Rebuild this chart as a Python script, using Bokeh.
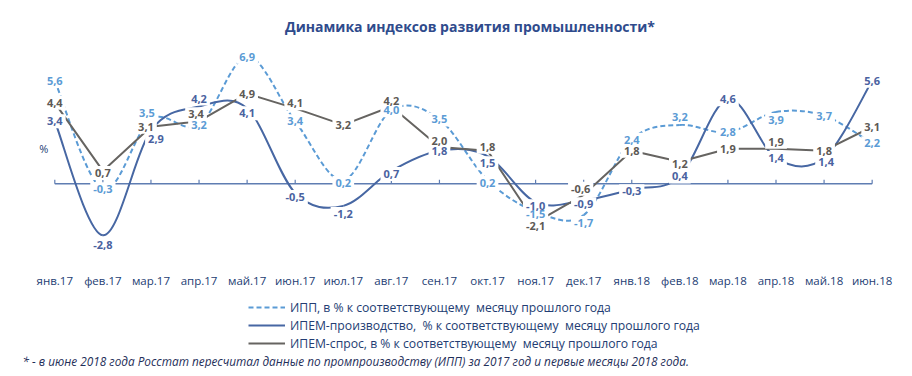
import numpy as np
from bokeh.plotting import figure
from bokeh.models import ColumnDataSource, LabelSet, Label, Legend, LegendItem, Range1d
from bokeh.embed import file_html
from bokeh.resources import INLINE
from bokeh.core.properties import value

# ---------------- data ----------------
months = ["янв.17", "фев.17", "мар.17", "апр.17", "май.17", "июн.17", "июл.17",
          "авг.17", "сен.17", "окт.17", "ноя.17", "дек.17", "янв.18", "фев.18",
          "мар.18", "апр.18", "май.18", "июн.18"]
ipp = [5.6, -0.3, 3.5, 3.2, 6.9, 3.4, 0.2, 4.0, 3.5, 0.2, -1.5, -1.7, 2.4, 3.2, 2.8, 3.9, 3.7, 2.2]
ipem_prod = [3.4, -2.8, 2.9, 4.2, 4.1, -0.5, -1.2, 0.7, 1.8, 1.5, -1.0, -0.9, -0.3, 0.4, 4.6, 1.4, 1.4, 5.6]
ipem_demand = [4.4, 0.7, 3.1, 3.4, 4.9, 4.1, 3.2, 4.2, 2.0, 1.8, -2.1, -0.6, 1.8, 1.2, 1.9, 1.9, 1.8, 3.1]

name_ipp = "ИПП, в % к соответствующему  месяцу прошлого года"
name_prod = "ИПЕМ-производство,  % к соответствующему  месяцу прошлого года"
name_demand = "ИПЕМ-спрос, в % к соответствующему  месяцу прошлого года"
title_text = "Динамика индексов развития промышленности*"
footnote = "* - в июне 2018 года Росстат пересчитал данные по промпроизводству (ИПП) за 2017 год и первые месяцы 2018 года."

# ---------------- styles ----------------
C_IPP = "#5B9BD5"
C_PROD = "#4767A3"
C_PROD_LBL = "#4A62A0"
C_DEM = "#666461"
C_DEM_LBL = "#5D5955"
C_AXIS = "#5F7DB2"
NAVY = "#233D73"
TITLE_C = "#2F4B8C"
FONT = "Open Sans"

# label nudges in screen px, positive = up (style only)
ipp_dx = [0, 0, -4, 0, 0, 0, 0, 0, 0, 0, 0, 0, 0, 0, 0, 0, 0, 0]
ipp_dy = [0, 0, 6, 0, 0, 0, -3, 0, 0, -3, -3, -8, 0, 8, 0, -8, 0, 0]
prod_dx = [0, 0, 5, 0, 0, 0, 0, 0, 0, 0, 0, 0, 0, 0, 0, 0, 2, 0]
prod_dy = [0, -10, -9, 8, -5, -4, -8, -3, 0, -7, -4, -4, -2, 0, 0, 0, -4, 0]
dem_dx = [0, 0, -5, -3, 0, 0, 0, 0, 0, 0, 0, -3, 0, 0, 0, 0, 0, 0]
dem_dy = [0, -2, 0, 7, 0, 5, 0, 6, 6, 4, -4, 6, 0, -2, 0, 7, 0, 0]

W, H = 904, 368
X0_PX, DX_PX = 54.3, 48.08      # canvas px of first category, px per category
Y0_PX, DY_PX = 183.3, 18.4      # canvas px (from top) of zero, px per unit

xs = np.arange(len(months), dtype=float)

p = figure(width=W, height=H, output_backend="svg", toolbar_location=None,
           x_range=Range1d(-X0_PX / DX_PX, (W - X0_PX) / DX_PX),
           y_range=Range1d(-(H - Y0_PX) / DY_PX, Y0_PX / DY_PX),
           x_axis_type=None, y_axis_type=None, min_border=0,
           outline_line_color=None, background_fill_color="white",
           border_fill_color="white")
p.grid.visible = False

# zero axis line with upward ticks at categories
p.segment(x0=[xs[0]], y0=[0], x1=[xs[-1]], y1=[0], line_color=C_AXIS, line_width=1.5)
tick_len = 4.0 / DY_PX
p.segment(x0=xs, y0=np.zeros_like(xs), x1=xs, y1=np.full_like(xs, tick_len),
          line_color=C_AXIS, line_width=1.2)


def smooth_segments(x, y):
    x = np.asarray(x, float)
    y = np.asarray(y, float)
    n = len(x)
    d = dict(x0=[], y0=[], x1=[], y1=[], cx0=[], cy0=[], cx1=[], cy1=[])
    for i in range(n - 1):
        a = max(i - 1, 0)
        b = min(i + 2, n - 1)
        d["x0"].append(x[i]); d["y0"].append(y[i])
        d["x1"].append(x[i + 1]); d["y1"].append(y[i + 1])
        d["cx0"].append(x[i] + (x[i + 1] - x[a]) / 6.0)
        d["cy0"].append(y[i] + (y[i + 1] - y[a]) / 6.0)
        d["cx1"].append(x[i + 1] - (x[b] - x[i]) / 6.0)
        d["cy1"].append(y[i + 1] - (y[b] - y[i]) / 6.0)
    return ColumnDataSource(d)


r_ipp = p.bezier(x0="x0", y0="y0", x1="x1", y1="y1", cx0="cx0", cy0="cy0",
                 cx1="cx1", cy1="cy1", source=smooth_segments(xs, ipp),
                 line_color=C_IPP, line_width=2, line_dash="5 3")
r_prod = p.bezier(x0="x0", y0="y0", x1="x1", y1="y1", cx0="cx0", cy0="cy0",
                  cx1="cx1", cy1="cy1", source=smooth_segments(xs, ipem_prod),
                  line_color=C_PROD, line_width=2)
r_dem = p.line(xs, ipem_demand, line_color=C_DEM, line_width=2)


def fmt(v):
    return f"{v:.1f}".replace(".", ",")


label_specs = [(ipp, C_IPP, ipp_dx, ipp_dy),
               (ipem_demand, C_DEM_LBL, dem_dx, dem_dy),
               (ipem_prod, C_PROD_LBL, prod_dx, prod_dy)]
label_sources = [ColumnDataSource(dict(x=xs, y=vals, t=[fmt(v) for v in vals],
                                       dx=dx, dy=[-d for d in dy]))
                 for vals, _, dx, dy in label_specs]

common = dict(x="x", y="y", text="t", x_offset="dx", y_offset="dy",
              text_align="center", text_baseline="middle",
              text_font=value(FONT), text_font_style="bold", text_font_size="11px")

# pass 1: white boxes (mask lines around the labels)
for src, (vals, color, dx, dy) in zip(label_sources, label_specs):
    p.text(source=src, text_color=color, text_alpha=0,
           background_fill_color="white", padding=3, **common)
# pass 2: the label texts themselves
for src, (vals, color, dx, dy) in zip(label_sources, label_specs):
    p.text(source=src, text_color=color, **common)

# category labels
cat_src = ColumnDataSource(dict(x=xs, t=months))
p.add_layout(LabelSet(x="x", y=H - 280, y_units="screen", text="t", source=cat_src,
                      text_align="center", text_baseline="middle",
                      text_font=value(FONT), text_font_size="11.5px",
                      text_color=NAVY))

# "%" unit label
p.add_layout(Label(x=43.3, y=H - 148.3, x_units="screen", y_units="screen", text="%",
                   text_align="center", text_baseline="middle", text_font=FONT,
                   text_font_size="11px", text_color=NAVY))

# title
p.add_layout(Label(x=469.5, y=H - 26, x_units="screen", y_units="screen", text=title_text,
                   text_align="center", text_baseline="middle", text_font=FONT,
                   text_font_style="bold", text_font_size="14px", text_color=TITLE_C))

# footnote
p.add_layout(Label(x=22, y=H - 360, x_units="screen", y_units="screen", text=footnote,
                   text_align="left", text_baseline="middle", text_font=FONT,
                   text_font_style="italic", text_font_size="11.8px", text_color="#1F2F5A"))

legend = Legend(items=[LegendItem(label=name_ipp, renderers=[r_ipp]),
                       LegendItem(label=name_prod, renderers=[r_prod]),
                       LegendItem(label=name_demand, renderers=[r_dem])],
                location=(248, H - 352), orientation="vertical",
                glyph_width=37, glyph_height=18, label_height=18, label_standoff=5,
                spacing=0, padding=0, margin=0, border_line_color=None,
                background_fill_alpha=0, label_text_font=FONT,
                label_text_font_size="12.2px", label_text_color=NAVY)
p.add_layout(legend)

open("out.html", "w").write(file_html(p, INLINE))
